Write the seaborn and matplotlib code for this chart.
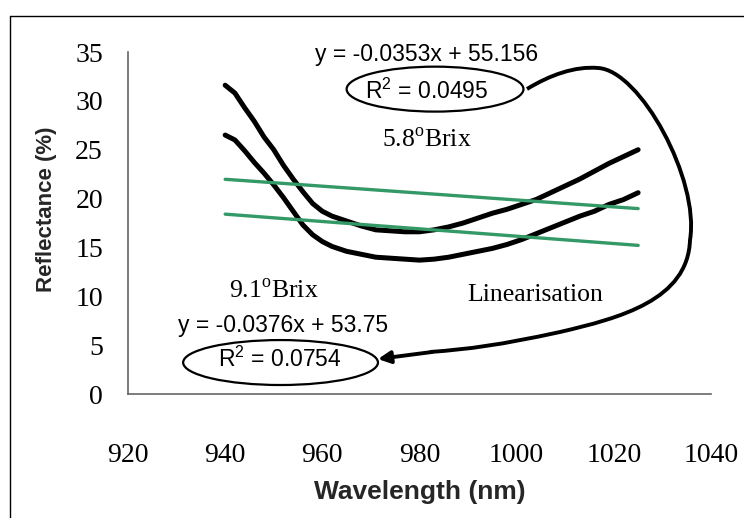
import numpy as np
import pandas as pd
import matplotlib
matplotlib.use("Agg")
import matplotlib.pyplot as plt
import seaborn as sns
from matplotlib.patches import Ellipse, PathPatch
from matplotlib.path import Path
from matplotlib.lines import Line2D

# ---------------- data ----------------
wavelength = [940, 942, 944, 946, 948, 950, 952, 954, 956, 958, 960, 962, 965,
              968, 971, 974, 977, 980, 983, 986, 989, 992, 995, 998, 1001,
              1004, 1007, 1010, 1013, 1016, 1019, 1022, 1025]
refl_5_8 = [31.6, 30.8, 29.3, 27.9, 26.3, 25.0, 23.4, 22.0, 20.7, 19.5, 18.7,
            18.2, 17.7, 17.2, 16.8, 16.7, 16.6, 16.6, 16.8, 17.1, 17.5, 18.0,
            18.5, 18.9, 19.4, 19.9, 20.6, 21.3, 22.0, 22.8, 23.6, 24.3, 25.0]
refl_9_1 = [26.5, 26.0, 24.9, 23.7, 22.6, 21.4, 20.1, 18.7, 17.3, 16.3, 15.6,
            15.1, 14.6, 14.3, 14.0, 13.9, 13.8, 13.7, 13.8, 14.0, 14.3, 14.6,
            14.9, 15.3, 15.8, 16.4, 17.0, 17.6, 18.2, 18.7, 19.4, 19.9, 20.6]

trend_x = [940, 1025]
slope_5_8, intercept_5_8 = -0.0353, 55.156
slope_9_1, intercept_9_1 = -0.0376, 53.75
r2_5_8 = 0.0495
r2_9_1 = 0.0754

x_ticks = [920, 940, 960, 980, 1000, 1020, 1040]
y_ticks = [0, 5, 10, 15, 20, 25, 30, 35]

# ---------------- style ----------------
sns.set_style("white")
plt.rcParams["font.family"] = ["Liberation Serif", "DejaVu Serif"]
plt.rcParams["mathtext.fontset"] = "custom"
plt.rcParams["mathtext.rm"] = "Liberation Serif"
plt.rcParams["mathtext.sf"] = "Liberation Sans"

W, H = 744, 518
fig = plt.figure(figsize=(W / 100, H / 100), dpi=100)
x0, x1, y0, y1 = 128, 711, 52, 394  # axes pixel box
ax = fig.add_axes([x0 / W, 1 - y1 / H, (x1 - x0) / W, (y1 - y0) / H])

curves = pd.DataFrame({
    "Wavelength": wavelength * 2,
    "Reflectance": refl_5_8 + refl_9_1,
    "Sample": ["5.8"] * len(wavelength) + ["9.1"] * len(wavelength),
})
sns.lineplot(data=curves, x="Wavelength", y="Reflectance", hue="Sample",
             palette={"5.8": "black", "9.1": "black"}, linewidth=3.6,
             estimator=None, legend=False, ax=ax, zorder=2)

trend = pd.DataFrame({
    "Wavelength": trend_x * 2,
    "Reflectance": [slope_5_8 * x + intercept_5_8 for x in trend_x]
                   + [slope_9_1 * x + intercept_9_1 for x in trend_x],
    "Sample": ["5.8"] * 2 + ["9.1"] * 2,
})
sns.lineplot(data=trend, x="Wavelength", y="Reflectance", hue="Sample",
             palette={"5.8": "#339966", "9.1": "#339966"}, linewidth=2.4,
             estimator=None, legend=False, ax=ax, zorder=3)

ax.set_xlim(920, 1040)
ax.set_ylim(0, 35)
ax.set_xticks(x_ticks)
ax.set_yticks(y_ticks)
ax.set_xticklabels([str(v) for v in x_ticks])
ax.set_yticklabels([str(v) for v in y_ticks])
for s in ["top", "right"]:
    ax.spines[s].set_visible(False)
for s in ["left", "bottom"]:
    ax.spines[s].set_color("#666666")
    ax.spines[s].set_linewidth(1.2)
ax.tick_params(axis="both", direction="out", length=8, width=1.2,
               color="#666666", labelsize=20, labelcolor="black")
ax.tick_params(axis="x", pad=27)
ax.tick_params(axis="y", pad=10)

ax.set_xlabel("Wavelength (nm)", fontfamily="Liberation Sans",
              fontweight="bold", fontsize=19)
ax.set_ylabel("Reflectance (%)", fontfamily="Liberation Sans",
              fontweight="bold", fontsize=16)
ax.xaxis.set_label_coords(0.5, -0.25)
ax.yaxis.set_label_coords(-0.121, 0.54)

sans = dict(fontfamily="Liberation Sans", fontsize=16.5, ha="center",
            va="center", color="black")
serif = dict(fontfamily="Liberation Serif", fontsize=18.5, ha="center",
             va="center", color="black")

ax.text(981.5, 34.7, f"y = {slope_5_8}x + {intercept_5_8}", **sans)
ax.text(981.5, 31.0, f"R$^{{\\mathsf{{2}}}}$ = {r2_5_8}", **sans)
ax.text(981.5, 26.0, "5.8$^{\\mathrm{o}}$Brix", **serif)
ax.text(950.1, 10.5, "9.1$^{\\mathrm{o}}$Brix", **serif)
ax.text(951.9, 7.06, f"y = {slope_9_1}x + {intercept_9_1}", **sans)
ax.text(951.3, 3.6, f"R$^{{\\mathsf{{2}}}}$ = {r2_9_1}", **sans)
ax.text(1003.9, 10.1, "Linearisation", **serif)

ax.add_patch(Ellipse((983.2, 31.2), 36.4, 4.6, fill=False, edgecolor="black",
                     linewidth=1.6, clip_on=False))
ax.add_patch(Ellipse((951.4, 3.22), 40.1, 4.6, fill=False, edgecolor="black",
                     linewidth=1.6, clip_on=False))

# curved connector arrow (pixel positions -> axes fraction)
def af(px, py):
    return ((px - x0) / (x1 - x0), (y1 - py) / (y1 - y0))

pts = [(527, 89),
       (550, 75), (575, 66), (598, 68),
       (640, 70), (700, 180), (690, 240),
       (688, 300), (620, 318), (560, 332),
       (500, 345), (470, 349), (430, 352)]
codes = [Path.MOVETO] + [Path.CURVE4] * 12
path = Path([af(*p) for p in pts], codes)
ax.add_patch(PathPatch(path, fill=False, edgecolor="black", linewidth=2.8,
                       transform=ax.transAxes, clip_on=False))
ax.annotate("", xy=af(378, 359), xytext=af(432, 352),
            xycoords="axes fraction", textcoords="axes fraction",
            arrowprops=dict(arrowstyle="-|>", color="black", lw=2.8,
                            mutation_scale=18, shrinkA=0, shrinkB=0))

# outer frame (left and top edges)
fig.add_artist(Line2D([10 / W, 10 / W], [0, 1 - 16 / H], color="black",
                      linewidth=1.0, transform=fig.transFigure))
fig.add_artist(Line2D([10 / W, 1], [1 - 16 / H, 1 - 16 / H], color="black",
                      linewidth=1.0, transform=fig.transFigure))

fig.savefig("out.png", dpi=100)
